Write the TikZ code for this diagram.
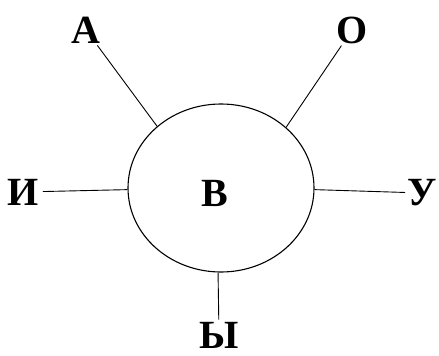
\documentclass[tikz,border=0pt]{standalone}
\usepackage{fontspec}
\setmainfont{Liberation Serif}
\usetikzlibrary{shapes.geometric}

\begin{document}
\begin{tikzpicture}[x=1pt, y=-1pt,
    letter/.style={font=\fontsize{40}{40}\selectfont\bfseries, inner sep=2pt},
    ray/.style={line width=0.9pt}]
    \useasboundingbox (0,0) rectangle (439,356);
    \node[draw, ellipse, line width=1.1pt, minimum width=186pt, minimum height=168pt, inner sep=0pt] (v) at (221,188) {};
    \node[letter] (b) at (215,193) {В};
    \node[letter] (a) at (86,30) {А};
    \node[letter] (o) at (352,30) {О};
    \node[letter, inner sep=4pt] (i) at (23,192) {И};
    \node[letter] (u) at (422,193) {У};
    \node[letter] (y) at (219,335) {Ы};
    \draw[ray] (a) -- (v.136);
    \draw[ray] (o) -- (v.43);
    \draw[ray] (i) -- (v.181);
    \draw[ray] (u) -- (v.-1);
    \draw[ray] (y) -- (v.268);
\end{tikzpicture}
\end{document}
